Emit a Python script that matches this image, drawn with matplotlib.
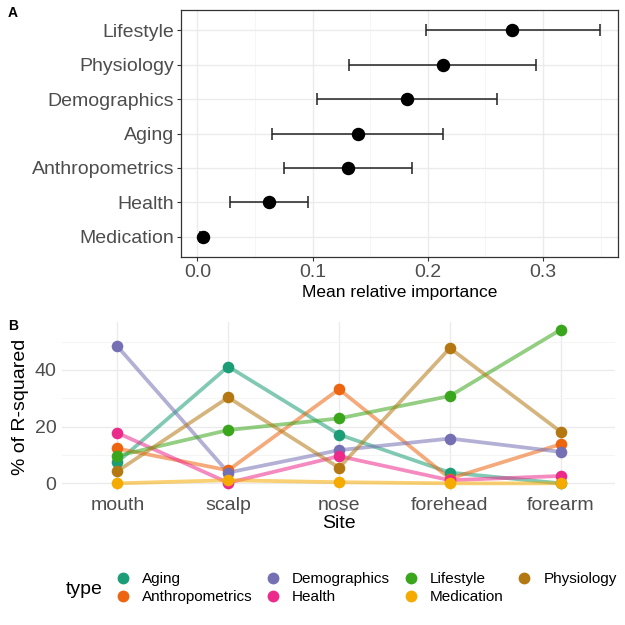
import matplotlib
matplotlib.use("Agg")
import matplotlib.pyplot as plt
from matplotlib.lines import Line2D
import numpy as np

plt.rcParams["font.family"] = ["Liberation Sans", "DejaVu Sans"]

# Panel A: mean relative importance per variable type (bottom to top)
groups_a = ["Medication", "Health", "Anthropometrics", "Aging",
            "Demographics", "Physiology", "Lifestyle"]
mean_imp = [0.0045, 0.062, 0.131, 0.139, 0.182, 0.213, 0.273]
low_imp = [0.002, 0.028, 0.075, 0.065, 0.104, 0.132, 0.198]
high_imp = [0.007, 0.096, 0.186, 0.213, 0.260, 0.294, 0.349]

# Panel B: % of R-squared per site and type
sites = ["mouth", "scalp", "nose", "forehead", "forearm"]
types = ["Aging", "Anthropometrics", "Demographics", "Health",
         "Lifestyle", "Medication", "Physiology"]
pct_aging = [7.5, 41.2, 17.2, 3.8, 0.0]
pct_anthro = [12.3, 4.6, 33.2, 1.7, 13.8]
pct_demo = [48.3, 3.8, 11.7, 15.8, 11.1]
pct_health = [17.8, 0.2, 9.6, 1.1, 2.6]
pct_life = [9.7, 18.8, 22.9, 30.8, 54.2]
pct_med = [0.0, 1.1, 0.4, 0.0, 0.0]
pct_phys = [4.3, 30.3, 5.5, 47.7, 18.2]

colors = ["#1B9E77", "#EE6510", "#7570B3", "#EC2A8C",
          "#3AA61C", "#F5AA00", "#B47812"]

fig = plt.figure(figsize=(6.25, 6.25), dpi=100)

# ---- Panel A ----
ax1 = fig.add_axes([181 / 625, 1 - 257 / 625, 437 / 625, 247 / 625])
ypos = np.arange(len(groups_a))
mean_arr = np.array(mean_imp)
err = [mean_arr - np.array(low_imp), np.array(high_imp) - mean_arr]
ax1.errorbar(mean_arr, ypos, xerr=err, fmt="none", ecolor="#222222",
             elinewidth=1.1, capsize=4, capthick=1.1, zorder=3)
ax1.scatter(mean_arr, ypos, s=75, color="black", zorder=4)
ax1.set_xlim(-0.0142, 0.365)
ax1.set_ylim(-0.58, 6.58)
ax1.set_yticks(ypos)
ax1.set_yticklabels(groups_a)
ax1.set_xticks([0.0, 0.1, 0.2, 0.3])
ax1.set_xticklabels(["0.0", "0.1", "0.2", "0.3"])
ax1.set_xticks([0.05, 0.15, 0.25, 0.35], minor=True)
ax1.grid(True, which="major", color="#EBEBEB", linewidth=1.0)
ax1.grid(True, which="minor", axis="x", color="#F4F4F4", linewidth=0.6)
ax1.set_axisbelow(True)
ax1.tick_params(axis="both", which="major", labelsize=14, colors="#333333",
                labelcolor="#4D4D4D", length=3, width=0.8, pad=2)
ax1.tick_params(axis="x", which="minor", length=0)
for sp in ax1.spines.values():
    sp.set_color("#333333")
    sp.set_linewidth(0.9)
ax1.set_xlabel("Mean relative importance", fontsize=12.5, labelpad=3)
fig.text(8 / 625, 1 - 13 / 625, "A", fontsize=10, fontweight="bold", va="center")

# ---- Panel B ----
ax2 = fig.add_axes([62 / 625, 1 - 491 / 625, 553 / 625, 169 / 625])
series = [pct_aging, pct_anthro, pct_demo, pct_health, pct_life, pct_med, pct_phys]
xpos = np.arange(len(sites))
for vals, c in zip(series, colors):
    ax2.plot(xpos, vals, color=c, alpha=0.55, linewidth=2.7,
             solid_capstyle="butt", zorder=2)
for vals, c in zip(series, colors):
    ax2.scatter(xpos, vals, s=70, color=c, zorder=3, linewidths=0)
ax2.set_xlim(-0.5, 4.49)
ax2.set_ylim(-2.7, 56.9)
ax2.set_xticks(xpos)
ax2.set_xticklabels(sites)
ax2.set_yticks([0, 20, 40])
ax2.set_yticks([10, 30, 50], minor=True)
ax2.grid(True, which="major", color="#EBEBEB", linewidth=1.0)
ax2.grid(True, which="minor", axis="y", color="#F3F3F3", linewidth=0.6)
ax2.set_axisbelow(True)
for sp in ax2.spines.values():
    sp.set_visible(False)
ax2.tick_params(axis="both", which="both", length=0, labelsize=14,
                labelcolor="#4D4D4D", pad=4)
ax2.set_xlabel("Site", fontsize=14, labelpad=1)
ax2.set_ylabel("% of R-squared", fontsize=14, labelpad=4)
fig.text(8 / 625, 1 - 326 / 625, "B", fontsize=10, fontweight="bold", va="center")

# ---- Legend ----
handles = [Line2D([0], [0], marker="o", linestyle="none", markersize=8.5,
                  markerfacecolor=c, markeredgewidth=0, color=c)
           for c in colors]
fig.legend(handles, types, ncol=4, loc="center left",
           bbox_to_anchor=(115 / 625, 1 - 588 / 625), frameon=False,
           fontsize=11, handlelength=1.0, handletextpad=0.75,
           columnspacing=0.85, labelspacing=0.25, borderpad=0, borderaxespad=0)
fig.text(66 / 625, 1 - 589 / 625, "type", fontsize=14, va="center")

fig.savefig("out.png", dpi=100)
